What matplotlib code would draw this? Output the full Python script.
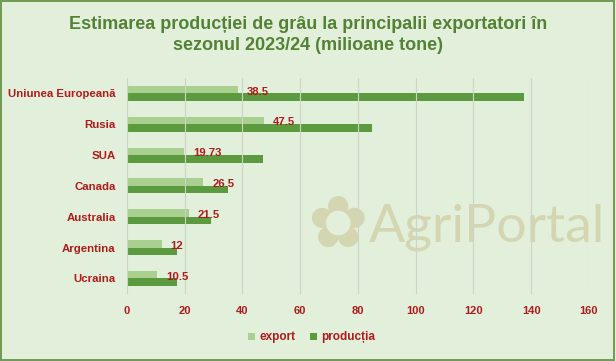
import matplotlib.pyplot as plt
from matplotlib.patches import Rectangle
import numpy as np

# data (million tonnes)
countries = ["Uniunea Europeană", "Rusia", "SUA", "Canada", "Australia", "Argentina", "Ucraina"]
export = [38.5, 47.5, 19.73, 26.5, 21.5, 12, 10.5]
productia = [137.5, 85, 47.3, 35, 29, 17.5, 17.5]
export_labels = ["38.5", "47.5", "19.73", "26.5", "21.5", "12", "10.5"]
xticks = [0, 20, 40, 60, 80, 100, 120, 140, 160]

bg = "#e2efda"
light = "#a9d08e"
dark = "#5b9a3e"
red = "#b01c1c"
title_green = "#548235"
mark = "#d4d6b2"

plt.rcParams['font.family'] = ['Liberation Sans', 'DejaVu Sans']

fig = plt.figure(figsize=(6.16, 3.61), dpi=100, facecolor=bg)
ax = fig.add_axes([0.206, 0.186, 0.75, 0.598])
ax.set_facecolor(bg)

# watermark, behind the grid
ax.text(0.548, 0.368, "\u273f", family="DejaVu Sans", fontsize=52, color=mark,
        ha="center", va="center", transform=fig.transFigure, zorder=0.5)
ax.text(0.598, 0.37, "AgriPortal", family="Lato", fontweight="normal", fontsize=38.5,
        color=mark, ha="left", va="center", transform=fig.transFigure, zorder=0.5)

y = np.arange(len(countries))
h = 0.245
ax.barh(y - h / 2, export, height=h, color=light, label="export", zorder=2)
ax.barh(y + h / 2, productia, height=h, color=dark, label="producția", zorder=2)

for yi, v, lab in zip(y, export, export_labels):
    ax.annotate(lab, (v, yi - h / 2), xytext=(9, -2), textcoords="offset pixels",
                color=red, fontsize=8.2, fontweight="bold", va="center", ha="left", zorder=3)

ax.set_xlim(0, 160)
ax.set_ylim(len(countries) - 0.5, -0.5)
ax.set_xticks(xticks)
ax.set_xticklabels([str(t) for t in xticks])
ax.set_yticks(y)
ax.set_yticklabels(countries)
ax.tick_params(axis="x", length=0, pad=8.5, labelsize=8, labelcolor=red)
ax.tick_params(axis="y", length=0, pad=8, labelsize=8.2, labelcolor=red)
for lbl in ax.get_xticklabels() + ax.get_yticklabels():
    lbl.set_fontweight("bold")
ax.grid(axis="x", color="#ccd3c8", linewidth=0.8, zorder=1)
ax.set_axisbelow(False)
for s in ax.spines.values():
    s.set_visible(False)

leg = ax.legend(loc="upper center", bbox_to_anchor=(0.4, -0.125), ncol=2, frameon=False,
                handlelength=0.6, handleheight=0.6, handletextpad=0.35, columnspacing=1.3,
                prop={"size": 8.5, "weight": "bold"})
for t in leg.get_texts():
    t.set_color(red)

fig.text(0.5, 0.903, "Estimarea producției de grâu la principalii exportatori în\nsezonul 2023/24 (milioane tone)",
         ha="center", va="center", fontsize=13, fontweight="bold", color=title_green, linespacing=1.3)

fig.patches.append(Rectangle((0.002, 0.003), 0.994, 0.994, transform=fig.transFigure,
                             fill=False, edgecolor="#6f9a52", linewidth=1.4))

fig.savefig("out.png", dpi=100, facecolor=bg)
